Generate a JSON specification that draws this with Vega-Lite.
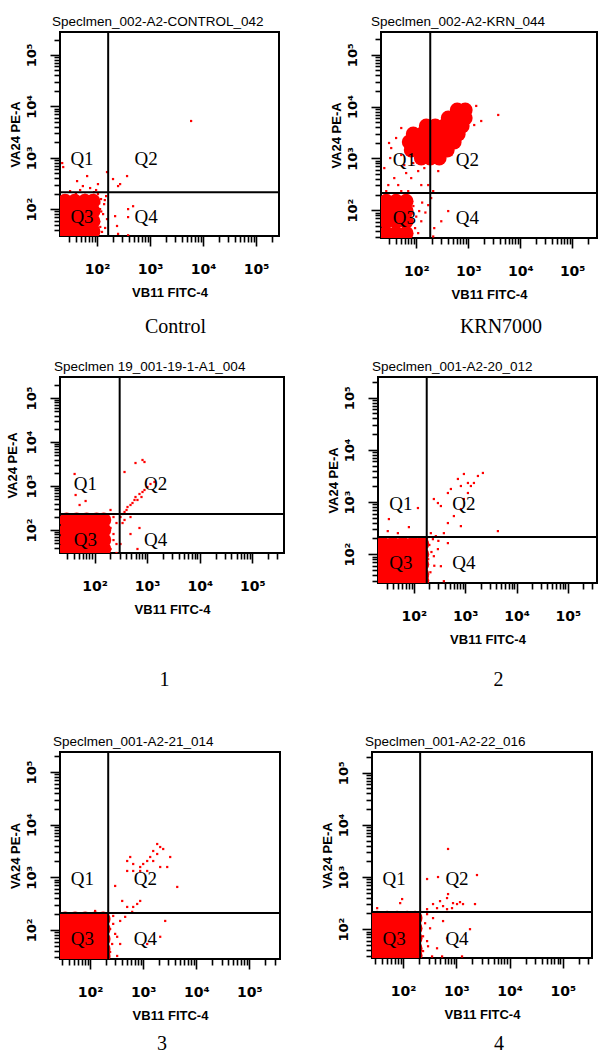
{
"$schema": "https://vega.github.io/schema/vega-lite/v6.json",
"background": "white",
"padding": {"left": 5, "top": 13, "right": 0, "bottom": 0},
"config": {
  "view": {"stroke": "black", "strokeWidth": 2},
  "axis": {"grid": false, "domain": false, "tickColor": "black", "tickWidth": 1.6, "labelFont": "DejaVu Sans", "labelFontWeight": "bold", "labelFontSize": 13, "labelColor": "black", "titleFont": "Liberation Sans", "titleFontWeight": "bold", "titleFontSize": 13, "titleColor": "black", "labelOverlap": false},
  "axisX": {"labelPadding": 16, "titlePadding": 10, "labelFontSize": 14},
  "axisY": {"labelAngle": -90, "labelAlign": "center", "labelBaseline": "bottom", "labelPadding": 12, "titlePadding": 3},
  "title": {"font": "Liberation Sans", "fontSize": 13.5, "fontWeight": "normal", "color": "black", "anchor": "start", "frame": "group", "offset": 3}
},
"datasets": {
  "c_dense": [{"x":25,"y":143},{"x":38,"y":143},{"x":59,"y":143},{"x":84,"y":143},{"x":25,"y":91},{"x":38,"y":91},{"x":59,"y":91},{"x":84,"y":91},{"x":25,"y":58},{"x":38,"y":58},{"x":59,"y":58},{"x":84,"y":58},{"x":25,"y":37},{"x":38,"y":37},{"x":59,"y":37},{"x":84,"y":37}],
  "c_sparse": [{"x":22,"y":788},{"x":23,"y":659},{"x":42,"y":351},{"x":65,"y":440},{"x":54,"y":281},{"x":104,"y":307},{"x":154,"y":526},{"x":200,"y":385},{"x":249,"y":281},{"x":368,"y":440},{"x":272,"y":307},{"x":219,"y":73},{"x":238,"y":47},{"x":385,"y":100},{"x":478,"y":114},{"x":385,"y":70},{"x":249,"y":33},{"x":385,"y":31},{"x":5940,"y":5190},{"x":104,"y":196},{"x":119,"y":157},{"x":136,"y":125},{"x":114,"y":100},{"x":130,"y":80},{"x":109,"y":56},{"x":142,"y":43},{"x":124,"y":36},{"x":96,"y":235},{"x":74,"y":257},{"x":48,"y":235},{"x":31,"y":224},{"x":88,"y":214},{"x":148,"y":179},{"x":154,"y":64},{"x":110,"y":130},{"x":120,"y":90},{"x":100,"y":65},{"x":115,"y":45},{"x":140,"y":150},{"x":95,"y":170},{"x":60,"y":190},{"x":40,"y":200}],
  "c_q": [{"q":"Q1","x":52,"y":940},{"q":"Q2","x":840,"y":940},{"q":"Q3","x":52,"y":70},{"q":"Q4","x":840,"y":70}],
  "c_gate": [{"x":162,"y":214}],
  "k_dense": [{"x":26.5,"y":149},{"x":41,"y":149},{"x":64,"y":149},{"x":26.5,"y":96},{"x":41,"y":96},{"x":64,"y":96},{"x":26.5,"y":61},{"x":41,"y":61},{"x":64,"y":61},{"x":26.5,"y":36},{"x":41,"y":36},{"x":64,"y":36},
    {"x":614,"y":8590},{"x":876,"y":8590},{"x":412,"y":6020},{"x":614,"y":6020},{"x":876,"y":6020},{"x":156,"y":4220},{"x":232,"y":4220},{"x":345,"y":4220},{"x":515,"y":4220},{"x":767,"y":4220},{"x":87.5,"y":2950},{"x":130,"y":2950},{"x":194,"y":2950},{"x":290,"y":2950},{"x":431,"y":2950},{"x":643,"y":2950},{"x":73.3,"y":2070},{"x":109,"y":2070},{"x":163,"y":2070},{"x":242,"y":2070},{"x":361,"y":2070},{"x":538,"y":2070},{"x":80,"y":1450},{"x":119,"y":1450},{"x":178,"y":1450},{"x":265,"y":1450},{"x":395,"y":1450},{"x":125,"y":1014},{"x":186,"y":1014},{"x":277,"y":1014}],
  "k_sparse": [{"x":30,"y":1980},{"x":33,"y":1580},{"x":51.5,"y":1160},{"x":58.8,"y":741},{"x":37.8,"y":416},{"x":29,"y":305},{"x":45,"y":305},{"x":80,"y":416},{"x":109,"y":568},{"x":143,"y":649},{"x":125,"y":305},{"x":303,"y":887},{"x":471,"y":1160},{"x":643,"y":1810},{"x":1304,"y":4400},{"x":1778,"y":5260},{"x":3776,"y":6880},{"x":1425,"y":10280},{"x":265,"y":568},{"x":412,"y":96},{"x":303,"y":61},{"x":212,"y":31},{"x":222,"y":45},{"x":170,"y":305},{"x":194,"y":171},{"x":170,"y":125},{"x":212,"y":233},{"x":114,"y":96},{"x":125,"y":61},{"x":109,"y":36},{"x":51.5,"y":233},{"x":26.5,"y":233},{"x":70,"y":233},{"x":41,"y":2470},{"x":51.5,"y":3850},{"x":31.6,"y":1014},{"x":24.3,"y":649},{"x":64,"y":520},{"x":87.5,"y":811},{"x":88,"y":120},{"x":100,"y":75},{"x":95,"y":45},{"x":130,"y":140},{"x":150,"y":90}],
  "k_q": [{"q":"Q1","x":59,"y":930},{"q":"Q2","x":960,"y":930},{"q":"Q3","x":59,"y":71},{"q":"Q4","x":960,"y":71}],
  "k_gate": [{"x":186,"y":214}],
  "p1_dense": [{"x":29.4,"y":169},{"x":45.5,"y":169},{"x":70.5,"y":169},{"x":109,"y":169},{"x":150,"y":169},{"x":29.4,"y":100},{"x":45.5,"y":100},{"x":70.5,"y":100},{"x":109,"y":100},{"x":150,"y":100},{"x":29.4,"y":59},{"x":45.5,"y":59},{"x":70.5,"y":59},{"x":109,"y":59},{"x":150,"y":59},{"x":29.4,"y":37},{"x":45.5,"y":37},{"x":70.5,"y":37},{"x":109,"y":37},{"x":150,"y":37}],
  "p1_sparse": [{"x":311,"y":197},{"x":340,"y":231},{"x":371,"y":257},{"x":405,"y":285},{"x":423,"y":333},{"x":482,"y":370},{"x":526,"y":411},{"x":574,"y":481},{"x":600,"y":562},{"x":654,"y":481},{"x":714,"y":658},{"x":780,"y":562},{"x":815,"y":731},{"x":889,"y":811},{"x":1014,"y":949},{"x":1156,"y":1110},{"x":1377,"y":1233},{"x":371,"y":169},{"x":482,"y":197},{"x":340,"y":144},{"x":371,"y":2080},{"x":600,"y":3330},{"x":815,"y":3900},{"x":889,"y":3510},{"x":41.7,"y":1875},{"x":43.6,"y":624},{"x":67.5,"y":456},{"x":51.9,"y":370},{"x":201,"y":285},{"x":714,"y":111},{"x":654,"y":37},{"x":482,"y":81},{"x":311,"y":48},{"x":229,"y":197},{"x":261,"y":144},{"x":229,"y":81},{"x":261,"y":48},{"x":201,"y":37},{"x":261,"y":30},{"x":201,"y":111},{"x":229,"y":59},{"x":35,"y":215},{"x":60,"y":210},{"x":90,"y":220},{"x":130,"y":205}],
  "p1_q": [{"q":"Q1","x":67,"y":1110},{"q":"Q2","x":1450,"y":1110},{"q":"Q3","x":67,"y":60},{"q":"Q4","x":1450,"y":60}],
  "p1_gate": [{"x":300,"y":230}],
  "p2_dense": [{"x":24.9,"y":156},{"x":39,"y":156},{"x":61,"y":156},{"x":95.6,"y":156},{"x":143,"y":156},{"x":24.9,"y":100},{"x":39,"y":100},{"x":61,"y":100},{"x":95.6,"y":100},{"x":143,"y":100},{"x":24.9,"y":64},{"x":39,"y":64},{"x":61,"y":64},{"x":95.6,"y":64},{"x":143,"y":64},{"x":24.9,"y":41},{"x":39,"y":41},{"x":61,"y":41},{"x":95.6,"y":41},{"x":143,"y":41},{"x":24.9,"y":31.6},{"x":39,"y":31.6},{"x":61,"y":31.6},{"x":95.6,"y":31.6},{"x":143,"y":31.6}],
  "p2_sparse": [{"x":214,"y":253},{"x":460,"y":395},{"x":602,"y":538},{"x":824,"y":733},{"x":944,"y":1142},{"x":1130,"y":1490},{"x":1291,"y":2030},{"x":1479,"y":2320},{"x":1770,"y":3160},{"x":2214,"y":3610},{"x":721,"y":2770},{"x":824,"y":2030},{"x":1130,"y":2320},{"x":944,"y":3450},{"x":526,"y":1778},{"x":460,"y":1490},{"x":294,"y":957},{"x":336,"y":838},{"x":245,"y":1142},{"x":4340,"y":277},{"x":824,"y":345},{"x":460,"y":163},{"x":336,"y":58.8},{"x":187,"y":37.8},{"x":235,"y":194},{"x":268,"y":222},{"x":384,"y":253},{"x":294,"y":125},{"x":245,"y":91.5},{"x":32.6,"y":471},{"x":48.8,"y":253},{"x":80,"y":330},{"x":120,"y":767},{"x":31,"y":277},{"x":384,"y":30.3},{"x":200,"y":150},{"x":220,"y":110},{"x":190,"y":80},{"x":250,"y":60},{"x":210,"y":45},{"x":300,"y":180},{"x":180,"y":200}],
  "p2_q": [{"q":"Q1","x":56,"y":910},{"q":"Q2","x":940,"y":910},{"q":"Q3","x":56,"y":67},{"q":"Q4","x":940,"y":67}],
  "p2_gate": [{"x":178,"y":214}],
  "p3_dense": [{"x":33.7,"y":162},{"x":52,"y":162},{"x":80.5,"y":162},{"x":124,"y":162},{"x":176,"y":162},{"x":33.7,"y":104.5},{"x":52,"y":104.5},{"x":80.5,"y":104.5},{"x":124,"y":104.5},{"x":176,"y":104.5},{"x":33.7,"y":67.5},{"x":52,"y":67.5},{"x":80.5,"y":67.5},{"x":124,"y":67.5},{"x":176,"y":67.5},{"x":33.7,"y":43.6},{"x":52,"y":43.6},{"x":80.5,"y":43.6},{"x":124,"y":43.6},{"x":176,"y":43.6},{"x":33.7,"y":32},{"x":52,"y":32},{"x":80.5,"y":32},{"x":124,"y":32},{"x":176,"y":32}],
  "p3_sparse": [{"x":499,"y":2038},{"x":569,"y":2427},{"x":648,"y":1318},{"x":878,"y":1567},{"x":1000,"y":1787},{"x":1190,"y":2038},{"x":1356,"y":2427},{"x":1545,"y":3156},{"x":1837,"y":4285},{"x":2093,"y":3757},{"x":2384,"y":3444},{"x":1837,"y":2768},{"x":1545,"y":2038},{"x":2093,"y":1567},{"x":2838,"y":1567},{"x":3230,"y":2427},{"x":1190,"y":1318},{"x":878,"y":1318},{"x":499,"y":1318},{"x":648,"y":1787},{"x":4385,"y":655},{"x":296,"y":684},{"x":402,"y":355},{"x":499,"y":273},{"x":648,"y":273},{"x":771,"y":311},{"x":878,"y":355},{"x":620,"y":220},{"x":457,"y":177},{"x":368,"y":148},{"x":272,"y":130},{"x":323,"y":74},{"x":368,"y":54},{"x":2600,"y":148},{"x":2093,"y":74},{"x":1190,"y":54},{"x":323,"y":32},{"x":238,"y":38},{"x":124,"y":229},{"x":272,"y":184},{"x":238,"y":104},{"x":260,"y":54},{"x":296,"y":84}],
  "p3_q": [{"q":"Q1","x":71,"y":930},{"q":"Q2","x":1100,"y":930},{"q":"Q3","x":71,"y":67},{"q":"Q4","x":1100,"y":67}],
  "p3_gate": [{"x":219,"y":209}],
  "p4_dense": [{"x":32.5,"y":163},{"x":50,"y":163},{"x":77,"y":163},{"x":119,"y":163},{"x":168,"y":163},{"x":32.5,"y":104},{"x":50,"y":104},{"x":77,"y":104},{"x":119,"y":104},{"x":168,"y":104},{"x":32.5,"y":67},{"x":50,"y":67},{"x":77,"y":67},{"x":119,"y":67},{"x":168,"y":67},{"x":32.5,"y":43},{"x":50,"y":43},{"x":77,"y":43},{"x":119,"y":43},{"x":168,"y":43},{"x":32.5,"y":31.6},{"x":50,"y":31.6},{"x":77,"y":31.6},{"x":119,"y":31.6},{"x":168,"y":31.6}],
  "p4_sparse": [{"x":699,"y":3454},{"x":2445,"y":1092},{"x":282,"y":916},{"x":453,"y":1000},{"x":699,"y":471},{"x":669,"y":395},{"x":494,"y":345},{"x":867,"y":316},{"x":1173,"y":330},{"x":1031,"y":303},{"x":1336,"y":303},{"x":365,"y":303},{"x":563,"y":277},{"x":2244,"y":303},{"x":282,"y":242},{"x":434,"y":253},{"x":669,"y":242},{"x":830,"y":253},{"x":32.5,"y":253},{"x":88,"y":316},{"x":95.8,"y":378},{"x":42,"y":203},{"x":365,"y":163},{"x":563,"y":143},{"x":321,"y":104},{"x":1807,"y":100},{"x":282,"y":59},{"x":434,"y":43},{"x":1280,"y":30},{"x":350,"y":30},{"x":669,"y":67},{"x":237,"y":38},{"x":540,"y":30},{"x":282,"y":194},{"x":259,"y":130},{"x":237,"y":73},{"x":294,"y":47}],
  "p4_q": [{"q":"Q1","x":68,"y":910},{"q":"Q2","x":1030,"y":910},{"q":"Q3","x":68,"y":64},{"q":"Q4","x":1030,"y":64}],
  "p4_gate": [{"x":209,"y":214}]
},
"spacing": 43,
"vconcat": [
{"spacing": 21, "vconcat": [
 {"hconcat": [
  {"title": {"text": "Control", "orient": "bottom", "anchor": "middle", "frame": "bounds", "font": "Liberation Serif", "fontSize": 20, "offset": 17, "dx": 31},
   "vconcat": [{
    "width": 219, "height": 204,
    "title": {"text": "Speclmen_002-A2-CONTROL_042", "dx": -8},
    "resolve": {"axis": {"x": "independent", "y": "independent"}},
    "layer": [
     {"data": {"name": "c_dense"}, "mark": {"type": "circle", "size": 220, "color": "#ff0000", "opacity": 1, "clip": true},
      "encoding": {
       "x": {"field": "x", "type": "quantitative", "scale": {"type": "log", "domain": [20, 270000], "nice": false}, "axis": {"orient": "bottom", "title": "VB11 FITC-4", "values": [100,1000,10000,100000], "tickSize": 10, "labelExpr": "datum.value == 100 ? '10²' : datum.value == 1000 ? '10³' : datum.value == 10000 ? '10⁴' : '10⁵'"}},
       "y": {"field": "y", "type": "quantitative", "scale": {"type": "log", "domain": [30, 280000], "nice": false}, "axis": {"orient": "left", "title": "VA24 PE-A", "values": [100,1000,10000,100000], "tickSize": 10, "labelExpr": "datum.value == 100 ? '10²' : datum.value == 1000 ? '10³' : datum.value == 10000 ? '10⁴' : '10⁵'"}}}},
     {"data": {"name": "c_sparse"}, "mark": {"type": "square", "size": 5, "color": "#ff0000", "opacity": 1, "clip": true},
      "encoding": {"x": {"field": "x", "type": "quantitative", "scale": {"type": "log", "domain": [20, 270000], "nice": false}, "axis": {"orient": "bottom", "title": null, "labels": false, "tickSize": 6, "values": [30,40,50,60,70,80,90,200,300,400,500,600,700,800,900,2000,3000,4000,5000,6000,7000,8000,9000,20000,30000,40000,50000,60000,70000,80000,90000,200000]}}, "y": {"field": "y", "type": "quantitative", "scale": {"type": "log", "domain": [30, 280000], "nice": false}, "axis": {"orient": "left", "title": null, "labels": false, "tickSize": 6, "values": [40,50,60,70,80,90,200,300,400,500,600,700,800,900,2000,3000,4000,5000,6000,7000,8000,9000,20000,30000,40000,50000,60000,70000,80000,90000,200000]}}}},
     {"data": {"name": "c_gate"}, "mark": {"type": "rule", "color": "black", "strokeWidth": 2},
      "encoding": {"x": {"field": "x", "type": "quantitative", "scale": {"type": "log", "domain": [20, 270000], "nice": false}, "axis": null}}},
     {"data": {"name": "c_gate"}, "mark": {"type": "rule", "color": "black", "strokeWidth": 2},
      "encoding": {"y": {"field": "y", "type": "quantitative", "scale": {"type": "log", "domain": [30, 280000], "nice": false}, "axis": null}}},
     {"data": {"name": "c_q"}, "mark": {"type": "text", "font": "Liberation Serif", "fontSize": 19, "color": "black"},
      "encoding": {"x": {"field": "x", "type": "quantitative", "scale": {"type": "log", "domain": [20, 270000], "nice": false}, "axis": null}, "y": {"field": "y", "type": "quantitative", "scale": {"type": "log", "domain": [30, 280000], "nice": false}, "axis": null}, "text": {"field": "q"}}}
    ]}]},
  {"title": {"text": "KRN7000", "orient": "bottom", "anchor": "middle", "frame": "bounds", "font": "Liberation Serif", "fontSize": 20, "offset": 15, "dx": 37},
   "vconcat": [{
    "width": 216, "height": 206,
    "title": {"text": "Speclmen_002-A2-KRN_044", "dx": -10},
    "resolve": {"axis": {"x": "independent", "y": "independent"}},
    "layer": [
     {"data": {"name": "k_dense"}, "mark": {"type": "circle", "size": 220, "color": "#ff0000", "opacity": 1, "clip": true},
      "encoding": {
       "x": {"field": "x", "type": "quantitative", "scale": {"type": "log", "domain": [21, 300000], "nice": false}, "axis": {"orient": "bottom", "title": "VB11 FITC-4", "values": [100,1000,10000,100000], "tickSize": 10, "labelExpr": "datum.value == 100 ? '10²' : datum.value == 1000 ? '10³' : datum.value == 10000 ? '10⁴' : '10⁵'"}},
       "y": {"field": "y", "type": "quantitative", "scale": {"type": "log", "domain": [29, 275000], "nice": false}, "axis": {"orient": "left", "title": "VA24 PE-A", "values": [100,1000,10000,100000], "tickSize": 10, "labelExpr": "datum.value == 100 ? '10²' : datum.value == 1000 ? '10³' : datum.value == 10000 ? '10⁴' : '10⁵'"}}}},
     {"data": {"name": "k_sparse"}, "mark": {"type": "square", "size": 5, "color": "#ff0000", "opacity": 1, "clip": true},
      "encoding": {"x": {"field": "x", "type": "quantitative", "scale": {"type": "log", "domain": [21, 300000], "nice": false}, "axis": {"orient": "bottom", "title": null, "labels": false, "tickSize": 6, "values": [30,40,50,60,70,80,90,200,300,400,500,600,700,800,900,2000,3000,4000,5000,6000,7000,8000,9000,20000,30000,40000,50000,60000,70000,80000,90000,200000]}}, "y": {"field": "y", "type": "quantitative", "scale": {"type": "log", "domain": [29, 275000], "nice": false}, "axis": {"orient": "left", "title": null, "labels": false, "tickSize": 6, "values": [30,40,50,60,70,80,90,200,300,400,500,600,700,800,900,2000,3000,4000,5000,6000,7000,8000,9000,20000,30000,40000,50000,60000,70000,80000,90000,200000]}}}},
     {"data": {"name": "k_gate"}, "mark": {"type": "rule", "color": "black", "strokeWidth": 2},
      "encoding": {"x": {"field": "x", "type": "quantitative", "scale": {"type": "log", "domain": [21, 300000], "nice": false}, "axis": null}}},
     {"data": {"name": "k_gate"}, "mark": {"type": "rule", "color": "black", "strokeWidth": 2},
      "encoding": {"y": {"field": "y", "type": "quantitative", "scale": {"type": "log", "domain": [29, 275000], "nice": false}, "axis": null}}},
     {"data": {"name": "k_q"}, "mark": {"type": "text", "font": "Liberation Serif", "fontSize": 19, "color": "black"},
      "encoding": {"x": {"field": "x", "type": "quantitative", "scale": {"type": "log", "domain": [21, 300000], "nice": false}, "axis": null}, "y": {"field": "y", "type": "quantitative", "scale": {"type": "log", "domain": [29, 275000], "nice": false}, "axis": null}, "text": {"field": "q"}}}
    ]}]}
 ], "spacing": 47},
 {"hconcat": [
  {"title": {"text": "1", "orient": "bottom", "anchor": "middle", "frame": "bounds", "font": "Liberation Serif", "fontSize": 20, "offset": 53, "dx": 19},
   "vconcat": [{
    "width": 224, "height": 176,
    "title": {"text": "Speclmen 19_001-19-1-A1_004", "dx": -6},
    "resolve": {"axis": {"x": "independent", "y": "independent"}},
    "layer": [
     {"data": {"name": "p1_dense"}, "mark": {"type": "circle", "size": 220, "color": "#ff0000", "opacity": 1, "clip": true},
      "encoding": {
       "x": {"field": "x", "type": "quantitative", "scale": {"type": "log", "domain": [22, 400000], "nice": false}, "axis": {"orient": "bottom", "title": "VB11 FITC-4", "values": [100,1000,10000,100000], "tickSize": 10, "labelExpr": "datum.value == 100 ? '10²' : datum.value == 1000 ? '10³' : datum.value == 10000 ? '10⁴' : '10⁵'"}},
       "y": {"field": "y", "type": "quantitative", "scale": {"type": "log", "domain": [30, 300000], "nice": false}, "axis": {"orient": "left", "title": "VA24 PE-A", "titlePadding": 6, "values": [100,1000,10000,100000], "tickSize": 10, "labelExpr": "datum.value == 100 ? '10²' : datum.value == 1000 ? '10³' : datum.value == 10000 ? '10⁴' : '10⁵'"}}}},
     {"data": {"name": "p1_sparse"}, "mark": {"type": "square", "size": 5, "color": "#ff0000", "opacity": 1, "clip": true},
      "encoding": {"x": {"field": "x", "type": "quantitative", "scale": {"type": "log", "domain": [22, 400000], "nice": false}, "axis": {"orient": "bottom", "title": null, "labels": false, "tickSize": 6, "values": [30,40,50,60,70,80,90,200,300,400,500,600,700,800,900,2000,3000,4000,5000,6000,7000,8000,9000,20000,30000,40000,50000,60000,70000,80000,90000,200000,300000]}}, "y": {"field": "y", "type": "quantitative", "scale": {"type": "log", "domain": [30, 300000], "nice": false}, "axis": {"orient": "left", "title": null, "labels": false, "tickSize": 6, "values": [40,50,60,70,80,90,200,300,400,500,600,700,800,900,2000,3000,4000,5000,6000,7000,8000,9000,20000,30000,40000,50000,60000,70000,80000,90000,200000]}}}},
     {"data": {"name": "p1_gate"}, "mark": {"type": "rule", "color": "black", "strokeWidth": 2},
      "encoding": {"x": {"field": "x", "type": "quantitative", "scale": {"type": "log", "domain": [22, 400000], "nice": false}, "axis": null}}},
     {"data": {"name": "p1_gate"}, "mark": {"type": "rule", "color": "black", "strokeWidth": 2},
      "encoding": {"y": {"field": "y", "type": "quantitative", "scale": {"type": "log", "domain": [30, 300000], "nice": false}, "axis": null}}},
     {"data": {"name": "p1_q"}, "mark": {"type": "text", "font": "Liberation Serif", "fontSize": 19, "color": "black"},
      "encoding": {"x": {"field": "x", "type": "quantitative", "scale": {"type": "log", "domain": [22, 400000], "nice": false}, "axis": null}, "y": {"field": "y", "type": "quantitative", "scale": {"type": "log", "domain": [30, 300000], "nice": false}, "axis": null}, "text": {"field": "q"}}}
    ]}]},
  {"title": {"text": "2", "orient": "bottom", "anchor": "middle", "frame": "bounds", "font": "Liberation Serif", "fontSize": 20, "offset": 23, "dx": 36},
   "vconcat": [{
    "width": 219, "height": 206,
    "title": {"text": "Speclmen_001-A2-20_012", "dx": -6},
    "resolve": {"axis": {"x": "independent", "y": "independent"}},
    "layer": [
     {"data": {"name": "p2_dense"}, "mark": {"type": "circle", "size": 220, "color": "#ff0000", "opacity": 1, "clip": true},
      "encoding": {
       "x": {"field": "x", "type": "quantitative", "scale": {"type": "log", "domain": [20, 370000], "nice": false}, "axis": {"orient": "bottom", "title": "VB11 FITC-4", "values": [100,1000,10000,100000], "tickSize": 10, "labelExpr": "datum.value == 100 ? '10²' : datum.value == 1000 ? '10³' : datum.value == 10000 ? '10⁴' : '10⁵'"}},
       "y": {"field": "y", "type": "quantitative", "scale": {"type": "log", "domain": [28, 250000], "nice": false}, "axis": {"orient": "left", "title": "VA24 PE-A", "values": [100,1000,10000,100000], "tickSize": 10, "labelExpr": "datum.value == 100 ? '10²' : datum.value == 1000 ? '10³' : datum.value == 10000 ? '10⁴' : '10⁵'"}}}},
     {"data": {"name": "p2_sparse"}, "mark": {"type": "square", "size": 5, "color": "#ff0000", "opacity": 1, "clip": true},
      "encoding": {"x": {"field": "x", "type": "quantitative", "scale": {"type": "log", "domain": [20, 370000], "nice": false}, "axis": {"orient": "bottom", "title": null, "labels": false, "tickSize": 6, "values": [30,40,50,60,70,80,90,200,300,400,500,600,700,800,900,2000,3000,4000,5000,6000,7000,8000,9000,20000,30000,40000,50000,60000,70000,80000,90000,200000,300000]}}, "y": {"field": "y", "type": "quantitative", "scale": {"type": "log", "domain": [28, 250000], "nice": false}, "axis": {"orient": "left", "title": null, "labels": false, "tickSize": 6, "values": [30,40,50,60,70,80,90,200,300,400,500,600,700,800,900,2000,3000,4000,5000,6000,7000,8000,9000,20000,30000,40000,50000,60000,70000,80000,90000,200000]}}}},
     {"data": {"name": "p2_gate"}, "mark": {"type": "rule", "color": "black", "strokeWidth": 2},
      "encoding": {"x": {"field": "x", "type": "quantitative", "scale": {"type": "log", "domain": [20, 370000], "nice": false}, "axis": null}}},
     {"data": {"name": "p2_gate"}, "mark": {"type": "rule", "color": "black", "strokeWidth": 2},
      "encoding": {"y": {"field": "y", "type": "quantitative", "scale": {"type": "log", "domain": [28, 250000], "nice": false}, "axis": null}}},
     {"data": {"name": "p2_q"}, "mark": {"type": "text", "font": "Liberation Serif", "fontSize": 19, "color": "black"},
      "encoding": {"x": {"field": "x", "type": "quantitative", "scale": {"type": "log", "domain": [20, 370000], "nice": false}, "axis": null}, "y": {"field": "y", "type": "quantitative", "scale": {"type": "log", "domain": [28, 250000], "nice": false}, "axis": null}, "text": {"field": "q"}}}
    ]}]}
 ], "spacing": 39}
]},
 {"hconcat": [
  {"title": {"text": "3", "orient": "bottom", "anchor": "middle", "frame": "bounds", "font": "Liberation Serif", "fontSize": 20, "offset": 11, "dx": 17},
   "vconcat": [{
    "width": 220, "height": 207,
    "title": {"text": "Speclmen_001-A2-21_014", "dx": -7},
    "resolve": {"axis": {"x": "independent", "y": "independent"}},
    "layer": [
     {"data": {"name": "p3_dense"}, "mark": {"type": "circle", "size": 220, "color": "#ff0000", "opacity": 1, "clip": true},
      "encoding": {
       "x": {"field": "x", "type": "quantitative", "scale": {"type": "log", "domain": [27, 380000], "nice": false}, "axis": {"orient": "bottom", "title": "VB11 FITC-4", "values": [100,1000,10000,100000], "tickSize": 10, "labelExpr": "datum.value == 100 ? '10²' : datum.value == 1000 ? '10³' : datum.value == 10000 ? '10⁴' : '10⁵'"}},
       "y": {"field": "y", "type": "quantitative", "scale": {"type": "log", "domain": [28, 240000], "nice": false}, "axis": {"orient": "left", "title": "VA24 PE-A", "values": [100,1000,10000,100000], "tickSize": 10, "labelExpr": "datum.value == 100 ? '10²' : datum.value == 1000 ? '10³' : datum.value == 10000 ? '10⁴' : '10⁵'"}}}},
     {"data": {"name": "p3_sparse"}, "mark": {"type": "square", "size": 5, "color": "#ff0000", "opacity": 1, "clip": true},
      "encoding": {"x": {"field": "x", "type": "quantitative", "scale": {"type": "log", "domain": [27, 380000], "nice": false}, "axis": {"orient": "bottom", "title": null, "labels": false, "tickSize": 6, "values": [30,40,50,60,70,80,90,200,300,400,500,600,700,800,900,2000,3000,4000,5000,6000,7000,8000,9000,20000,30000,40000,50000,60000,70000,80000,90000,200000,300000]}}, "y": {"field": "y", "type": "quantitative", "scale": {"type": "log", "domain": [28, 240000], "nice": false}, "axis": {"orient": "left", "title": null, "labels": false, "tickSize": 6, "values": [30,40,50,60,70,80,90,200,300,400,500,600,700,800,900,2000,3000,4000,5000,6000,7000,8000,9000,20000,30000,40000,50000,60000,70000,80000,90000,200000]}}}},
     {"data": {"name": "p3_gate"}, "mark": {"type": "rule", "color": "black", "strokeWidth": 2},
      "encoding": {"x": {"field": "x", "type": "quantitative", "scale": {"type": "log", "domain": [27, 380000], "nice": false}, "axis": null}}},
     {"data": {"name": "p3_gate"}, "mark": {"type": "rule", "color": "black", "strokeWidth": 2},
      "encoding": {"y": {"field": "y", "type": "quantitative", "scale": {"type": "log", "domain": [28, 240000], "nice": false}, "axis": null}}},
     {"data": {"name": "p3_q"}, "mark": {"type": "text", "font": "Liberation Serif", "fontSize": 19, "color": "black"},
      "encoding": {"x": {"field": "x", "type": "quantitative", "scale": {"type": "log", "domain": [27, 380000], "nice": false}, "axis": null}, "y": {"field": "y", "type": "quantitative", "scale": {"type": "log", "domain": [28, 240000], "nice": false}, "axis": null}, "text": {"field": "q"}}}
    ]}]},
  {"title": {"text": "4", "orient": "bottom", "anchor": "middle", "frame": "bounds", "font": "Liberation Serif", "fontSize": 20, "offset": 12, "dx": 42},
   "vconcat": [{
    "width": 220, "height": 206,
    "title": {"text": "Speclmen_001-A2-22_016", "dx": -7},
    "resolve": {"axis": {"x": "independent", "y": "independent"}},
    "layer": [
     {"data": {"name": "p4_dense"}, "mark": {"type": "circle", "size": 220, "color": "#ff0000", "opacity": 1, "clip": true},
      "encoding": {
       "x": {"field": "x", "type": "quantitative", "scale": {"type": "log", "domain": [26, 355000], "nice": false}, "axis": {"orient": "bottom", "title": "VB11 FITC-4", "values": [100,1000,10000,100000], "tickSize": 10, "labelExpr": "datum.value == 100 ? '10²' : datum.value == 1000 ? '10³' : datum.value == 10000 ? '10⁴' : '10⁵'"}},
       "y": {"field": "y", "type": "quantitative", "scale": {"type": "log", "domain": [28, 250000], "nice": false}, "axis": {"orient": "left", "title": "VA24 PE-A", "values": [100,1000,10000,100000], "tickSize": 10, "labelExpr": "datum.value == 100 ? '10²' : datum.value == 1000 ? '10³' : datum.value == 10000 ? '10⁴' : '10⁵'"}}}},
     {"data": {"name": "p4_sparse"}, "mark": {"type": "square", "size": 5, "color": "#ff0000", "opacity": 1, "clip": true},
      "encoding": {"x": {"field": "x", "type": "quantitative", "scale": {"type": "log", "domain": [26, 355000], "nice": false}, "axis": {"orient": "bottom", "title": null, "labels": false, "tickSize": 6, "values": [30,40,50,60,70,80,90,200,300,400,500,600,700,800,900,2000,3000,4000,5000,6000,7000,8000,9000,20000,30000,40000,50000,60000,70000,80000,90000,200000,300000]}}, "y": {"field": "y", "type": "quantitative", "scale": {"type": "log", "domain": [28, 250000], "nice": false}, "axis": {"orient": "left", "title": null, "labels": false, "tickSize": 6, "values": [30,40,50,60,70,80,90,200,300,400,500,600,700,800,900,2000,3000,4000,5000,6000,7000,8000,9000,20000,30000,40000,50000,60000,70000,80000,90000,200000]}}}},
     {"data": {"name": "p4_gate"}, "mark": {"type": "rule", "color": "black", "strokeWidth": 2},
      "encoding": {"x": {"field": "x", "type": "quantitative", "scale": {"type": "log", "domain": [26, 355000], "nice": false}, "axis": null}}},
     {"data": {"name": "p4_gate"}, "mark": {"type": "rule", "color": "black", "strokeWidth": 2},
      "encoding": {"y": {"field": "y", "type": "quantitative", "scale": {"type": "log", "domain": [28, 250000], "nice": false}, "axis": null}}},
     {"data": {"name": "p4_q"}, "mark": {"type": "text", "font": "Liberation Serif", "fontSize": 19, "color": "black"},
      "encoding": {"x": {"field": "x", "type": "quantitative", "scale": {"type": "log", "domain": [26, 355000], "nice": false}, "axis": null}, "y": {"field": "y", "type": "quantitative", "scale": {"type": "log", "domain": [28, 250000], "nice": false}, "axis": null}, "text": {"field": "q"}}}
    ]}]}
 ], "spacing": 37}
]
}
